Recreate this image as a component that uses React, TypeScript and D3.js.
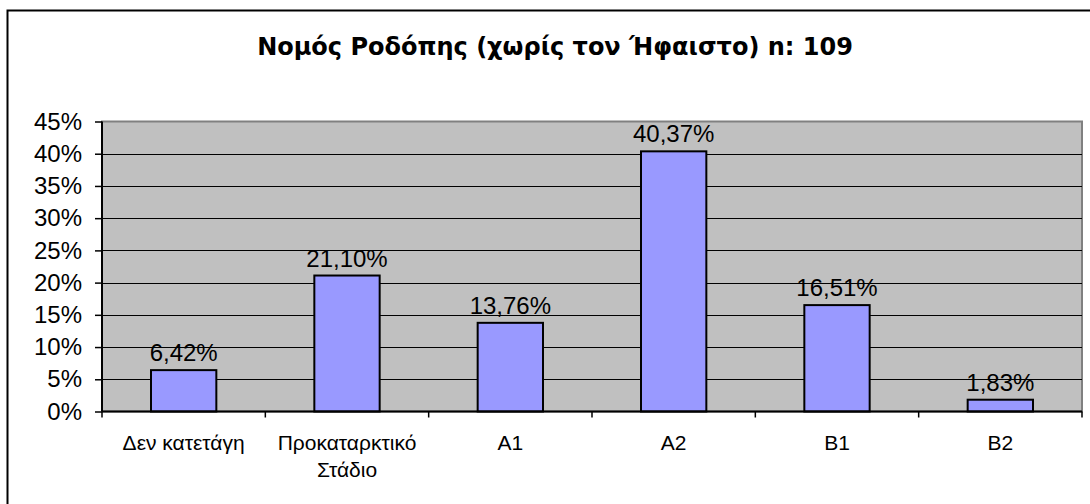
import React, { useRef, useEffect } from 'react';
import * as d3 from 'd3';

const title = 'Νομός Ροδόπης (χωρίς τον Ήφαιστο) n: 109';
const categories = ['Δεν κατετάγη', 'Προκαταρκτικό Στάδιο', 'A1', 'A2', 'B1', 'B2'];
const categoryLines = [['Δεν κατετάγη'], ['Προκαταρκτικό', 'Στάδιο'], ['A1'], ['A2'], ['B1'], ['B2']];
const values = [6.42, 21.1, 13.76, 40.37, 16.51, 1.83];
const yTicks = [0, 5, 10, 15, 20, 25, 30, 35, 40, 45];

const App = () => {
  const svgRef = useRef<SVGSVGElement>(null);

  useEffect(() => {
    const width = 1090;
    const height = 504;
    const plot = { left: 102, right: 1082, top: 121.5, bottom: 411.5 };
    const font = 'Liberation Sans, Arial, sans-serif';

    const svg = d3.select(svgRef.current)
      .attr('width', width)
      .attr('height', height)
      .html('');

    svg.append('rect').attr('width', width).attr('height', height).attr('fill', '#fff');

    // outer chart border (runs off the right and bottom edges)
    svg.append('rect')
      .attr('x', 7.5).attr('y', 10.5)
      .attr('width', 1100).attr('height', 520)
      .attr('fill', 'none').attr('stroke', '#000').attr('stroke-width', 2);

    svg.append('text')
      .attr('x', 555).attr('y', 55)
      .attr('text-anchor', 'middle')
      .style('font-family', 'DejaVu Sans, Verdana, sans-serif')
      .style('font-size', '24px')
      .style('font-weight', 'bold')
      .text(title);

    const x = d3.scaleBand().domain(categories).range([plot.left, plot.right]).padding(0);
    const y = d3.scaleLinear().domain([0, 45]).range([plot.bottom, plot.top]);

    // plot area
    svg.append('rect')
      .attr('x', plot.left).attr('y', plot.top)
      .attr('width', plot.right - plot.left).attr('height', plot.bottom - plot.top)
      .attr('fill', '#C0C0C0').attr('stroke', '#808080').attr('stroke-width', 2);

    // gridlines
    svg.append('g').selectAll('line')
      .data(yTicks.filter(t => t > 0 && t < 45))
      .join('line')
      .attr('x1', plot.left).attr('x2', plot.right)
      .attr('y1', d => Math.round(y(d)) + 0.5).attr('y2', d => Math.round(y(d)) + 0.5)
      .attr('stroke', '#000').attr('stroke-width', 1.2);

    // bars
    const barW = x.bandwidth() * 0.4;
    svg.append('g').selectAll('rect')
      .data(values)
      .join('rect')
      .attr('x', (d, i) => x(categories[i])! + (x.bandwidth() - barW) / 2)
      .attr('y', d => y(d))
      .attr('width', barW)
      .attr('height', d => y(0) - y(d))
      .attr('fill', '#9999FF').attr('stroke', '#000').attr('stroke-width', 2);

    // data labels
    svg.append('g').selectAll('text')
      .data(values)
      .join('text')
      .attr('x', (d, i) => x(categories[i])! + x.bandwidth() / 2)
      .attr('y', d => y(d) - 9)
      .attr('text-anchor', 'middle')
      .style('font-family', font)
      .style('font-size', '24px')
      .text(d => d.toFixed(2).replace('.', ',') + '%');

    // y axis
    const yAxis = d3.axisLeft(y).tickValues(yTicks).tickSize(7).tickPadding(13)
      .tickFormat(d => `${d}%`);
    const gy = svg.append('g').attr('transform', `translate(${plot.left},0)`).call(yAxis);
    gy.selectAll('text').style('font-family', font).style('font-size', '24px').attr('fill', '#000');
    gy.selectAll('line').attr('stroke', '#000').attr('stroke-width', 1.5);
    gy.select('.domain').attr('stroke', '#000').attr('stroke-width', 2).attr('d', `M0,${plot.top}V${plot.bottom}`);

    // x axis
    const gx = svg.append('g').attr('transform', `translate(0,${plot.bottom})`);
    gx.append('line').attr('x1', plot.left).attr('x2', plot.right)
      .attr('stroke', '#000').attr('stroke-width', 2);
    const edges = categories.map(c => x(c)!).concat([plot.right]);
    gx.selectAll('line.tick')
      .data(edges)
      .join('line')
      .attr('class', 'tick')
      .attr('x1', d => d).attr('x2', d => d)
      .attr('y1', 0).attr('y2', 6)
      .attr('stroke', '#000').attr('stroke-width', 1.5);

    const labels = gx.selectAll('text')
      .data(categoryLines)
      .join('text')
      .attr('text-anchor', 'middle')
      .style('font-family', font)
      .style('font-size', '21px');
    labels.each(function (lines, i) {
      const t = d3.select(this);
      lines.forEach((ln, j) => {
        t.append('tspan')
          .attr('x', x(categories[i])! + x.bandwidth() / 2)
          .attr('y', 38.5 + j * 26.5)
          .text(ln);
      });
    });
  }, []);

  return (
    <svg ref={svgRef} style={{ position: 'absolute', left: 0, top: 0, display: 'block' }}></svg>
  );
};

export default App;
